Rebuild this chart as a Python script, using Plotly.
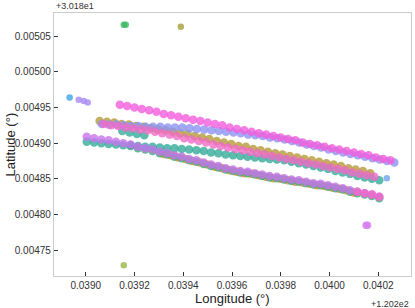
import plotly.graph_objects as go

# ---- data (offsets in micro-degrees: lon - 120.2, lat - 30.18) ----
MAG_A_LON = [39140,39170,39200,39230,39260,39290,39320,39350,39380,39410,39440,39470,39500,39530,39560,39590,39620,39650,39680,39710,39740,39770,39800,39830,39860,39890,39920,39950,39980,40010,40040,40070,40100,40130,40160,40190,40220,40250]
MAG_A_LAT = [4954,4952,4950,4948,4946,4944,4941,4939,4937,4935,4933,4931,4929,4927,4925,4922,4920,4918,4916,4914,4912,4910,4908,4906,4904,4901,4899,4897,4895,4893,4891,4889,4887,4885,4883,4880,4878,4876]

BLUE_A_LON = [39066,39096,39126,39156,39186,39216,39246,39276,39306,39336,39366,39396,39426,39456,39486,39516,39546,39576,39606,39636,39666,39696,39726,39756,39786,39816,39846,39876,39906,39936,39966,39996,40026,40056,40086,40116,40146,40176,40206,40236,40266]
BLUE_A_LAT = [4927,4926,4926,4925,4924,4924,4923,4923,4923,4922,4922,4922,4921,4920,4919,4918,4917,4916,4915,4914,4912,4911,4910,4908,4907,4905,4903,4901,4898,4896,4894,4891,4889,4887,4885,4883,4881,4879,4877,4875,4873]

OLIVE_B_LON = [39057,39087,39117,39147,39177,39207,39237,39267,39297,39327,39357,39387,39417,39447,39477,39507,39537,39567,39597,39627,39657,39687,39717,39747,39777,39807,39837,39867,39897,39927,39957,39987,40017,40047,40077,40107,40137,40167]
OLIVE_B_LAT = [4931,4930,4929,4927,4926,4924,4923,4921,4919,4918,4916,4914,4913,4910,4908,4906,4903,4901,4899,4896,4895,4892,4890,4888,4886,4884,4882,4880,4878,4876,4874,4872,4870,4868,4865,4863,4861,4858]

PINK_B_LON = [39074,39104,39134,39164,39194,39224,39254,39284,39314,39344,39374,39404,39434,39464,39494,39524,39554,39584,39614,39644,39674,39704,39734,39764,39794,39824,39854,39884,39914,39944,39974,40004,40034,40064,40094,40124,40154,40184]
PINK_B_LAT = [4927,4925,4924,4922,4921,4919,4918,4916,4914,4912,4910,4907,4905,4903,4901,4898,4896,4894,4892,4890,4888,4886,4884,4882,4880,4878,4876,4874,4872,4870,4868,4866,4864,4862,4859,4857,4855,4853]

TEAL_UP_LON = [39150,39180,39210,39240]
TEAL_UP_LAT = [4917,4915,4913,4911]

BAND_C_LON = [39004,39034,39064,39094,39124,39154,39184,39214,39244,39274,39304,39334,39364,39394,39424,39454,39484,39514,39544,39574,39604,39634,39664,39694,39724,39754,39784,39814,39844,39874,39904,39934,39964,39994,40024,40054,40084,40114,40144,40174,40204]
TEAL_X_LAT = [4902,4901,4900,4899,4898,4897,4897,4896,4895,4895,4894,4893,4893,4892,4891,4890,4889,4887,4886,4884,4883,4882,4881,4880,4879,4878,4877,4876,4874,4872,4870,4868,4866,4864,4861,4859,4857,4854,4852,4850,4848]
PURPLE_C_LAT = [4909,4907,4905,4904,4902,4900,4898,4895,4893,4891,4888,4886,4883,4881,4878,4876,4873,4870,4868,4865,4863,4861,4860,4858,4856,4854,4853,4851,4849,4848,4846,4844,4843,4841,4839,4837,4834,4832,4830,4828,4825]

GREEN_C_LON = [39184,39214,39244,39274,39304,39334,39364,39394,39424,39454,39484,39514,39544,39574,39604,39634,39664,39694,39724,39754,39784,39814,39844,39874,39904,39934,39964,39994,40024,40054,40084,40114,40144,40174,40204]
GREEN_C_LAT = [4896,4893,4891,4889,4886,4884,4881,4879,4876,4874,4871,4868,4866,4863,4861,4859,4858,4856,4854,4852,4851,4849,4847,4846,4844,4842,4841,4839,4837,4835,4832,4830,4828,4826,4823]

ORANGE_C_LON = [39319,39349,39379,39409,39439,39469,39499,39529,39559,39589,39619,39649,39679,39709,39739,39769,39799,39829,39859,39889,39919,39949,39979,40009,40039,40069,40099]
ORANGE_C_LAT = [4885,4883,4880,4878,4875,4873,4870,4867,4865,4862,4860,4858,4857,4855,4853,4851,4850,4848,4846,4845,4843,4841,4840,4838,4836,4834,4831]

PINK_C_LON = [40114,40144,40174,40204]
PINK_C_LAT = [4832,4830,4828,4825]

BLUE_DOT_LON = [38934]; BLUE_DOT_LAT = [4964]
LAV_DOT_LON = [38971,38992,39008]; LAV_DOT_LAT = [4961,4959,4957]
GREEN_DOT_LON = [39156,39164]; GREEN_DOT_LAT = [5066,5066]
OLIVE_DOT_LON = [39390]; OLIVE_DOT_LAT = [5063]
LIME_DOT_LON = [39156]; LIME_DOT_LAT = [4729]
PURPLE_DOT_LON = [40150,40156]; PURPLE_DOT_LAT = [4785,4785]
BLUE2_DOT_LON = [40235]; BLUE2_DOT_LAT = [4851]

X_TICKS = [0.0390,0.0392,0.0394,0.0396,0.0398,0.0400,0.0402]
Y_TICKS = [0.00475,0.00480,0.00485,0.00490,0.00495,0.00500,0.00505]

U = 1e-6  # micro-degree unit

LINE_SZ = 8.5
DOT_SZ = 6.5
series = [
    (ORANGE_C_LON, ORANGE_C_LAT, "#e0883a", LINE_SZ),
    (GREEN_C_LON, GREEN_C_LAT, "#3cae72", LINE_SZ),
    (OLIVE_B_LON, OLIVE_B_LAT, "#b59a37", LINE_SZ),
    (TEAL_UP_LON, TEAL_UP_LAT, "#36ad9a", LINE_SZ),
    (BAND_C_LON, TEAL_X_LAT, "#35ab98", LINE_SZ),
    (BLUE_A_LON, BLUE_A_LAT, "#8c94f2", LINE_SZ),
    (BAND_C_LON, PURPLE_C_LAT, "#c774ee", LINE_SZ),
    (PINK_C_LON, PINK_C_LAT, "#f06ac8", LINE_SZ),
    (PINK_B_LON, PINK_B_LAT, "#f06ac8", LINE_SZ),
    (MAG_A_LON, MAG_A_LAT, "#f25ddc", LINE_SZ),
    (BLUE_DOT_LON, BLUE_DOT_LAT, "#3ba3e8", DOT_SZ),
    (LAV_DOT_LON, LAV_DOT_LAT, "#a98af2", DOT_SZ),
    (GREEN_DOT_LON, GREEN_DOT_LAT, "#3db862", DOT_SZ),
    (OLIVE_DOT_LON, OLIVE_DOT_LAT, "#a8a03a", DOT_SZ),
    (LIME_DOT_LON, LIME_DOT_LAT, "#93b944", DOT_SZ),
    (PURPLE_DOT_LON, PURPLE_DOT_LAT, "#d67af0", 7.5),
    (BLUE2_DOT_LON, BLUE2_DOT_LAT, "#6ea4f0", DOT_SZ),
]

fig = go.Figure()
for lon, lat, col, sz in series:
    fig.add_trace(go.Scatter(
        x=[v * U for v in lon], y=[v * U for v in lat], mode="markers",
        marker=dict(color=col, size=sz, opacity=0.8, line=dict(width=0)),
        showlegend=False, hoverinfo="skip"))

FONT = "Liberation Sans, Arial, sans-serif"
axis_common = dict(showgrid=False, zeroline=False, showline=True, linecolor="#cccccc",
                   linewidth=1.2, mirror=True, ticks="inside", ticklen=4, tickwidth=1,
                   tickcolor="#333333", automargin=False,
                   tickfont=dict(family=FONT, size=10, color="#333333"))
fig.update_xaxes(range=[0.0388698, 0.0403343], tickvals=X_TICKS, tickformat=".4f", **axis_common)
fig.update_yaxes(range=[0.0047139, 0.0050824], tickvals=Y_TICKS, tickformat=".5f", **axis_common)
fig.update_layout(
    width=415, height=308, margin=dict(l=54, r=4, t=13, b=32, autoexpand=False),
    paper_bgcolor="white", plot_bgcolor="white",
    annotations=[
        dict(text="+3.018e1", xref="paper", yref="paper", x=0, y=1, xanchor="left", yanchor="bottom",
             showarrow=False, yshift=0, font=dict(family=FONT, size=9, color="#333333")),
        dict(text="+1.202e2", xref="paper", yref="paper", x=1, y=0, xanchor="right", yanchor="top",
             showarrow=False, yshift=-21, font=dict(family=FONT, size=9, color="#333333")),
        dict(text="Longitude (°)", xref="paper", yref="paper", x=0.5, y=0, xanchor="center",
             yanchor="top", yshift=-13, showarrow=False,
             font=dict(family=FONT, size=13, color="#222222")),
        dict(text="Latitude (°)", xref="paper", yref="paper", x=0, y=0.5, xanchor="center",
             yanchor="middle", xshift=-44, textangle=-90, showarrow=False,
             font=dict(family=FONT, size=13, color="#222222")),
    ],
)
fig.write_html("out.html", config={"displayModeBar": False},
               post_script="document.body.style.margin='0';")
